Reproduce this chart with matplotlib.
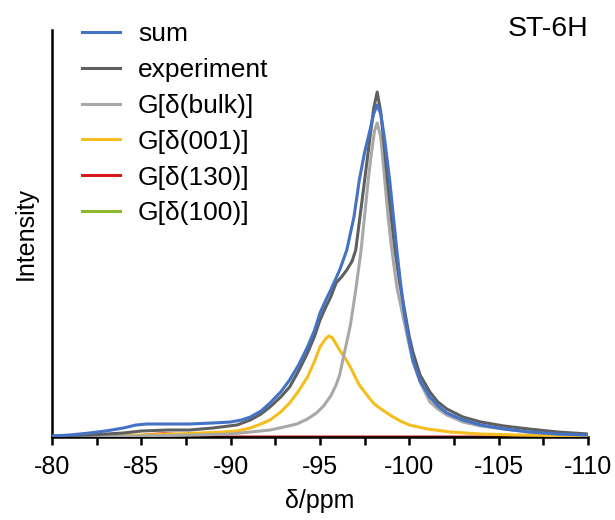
import numpy as np
import matplotlib.pyplot as plt

plt.rcParams['font.family'] = ['Liberation Sans', 'DejaVu Sans']
plt.rcParams['axes.unicode_minus'] = False

# (intensity in arbitrary units)
sum_ppm = [-80, -81, -82.1, -83, -84.0, -84.7, -85.3, -86.5, -87.7, -89.0,
           -90.0, -90.6, -91.1, -91.7, -92.2, -92.8, -93.3, -93.8, -94.3, -94.7,
           -95.0, -95.3, -95.6, -96.1, -96.5, -96.9, -97.2, -97.5, -97.8, -98.0,
           -98.2, -98.4, -98.6, -98.9, -99.1, -99.3, -99.5, -99.75, -100.0, -100.2,
           -100.6, -101.15, -101.6, -102.1, -103.0, -104.0, -105.3, -106.7, -108.3, -110]
sum_int = [1, 2, 4, 6, 9, 12, 13, 13, 13, 14,
           15, 17, 20, 26, 34, 45, 57, 72, 90, 107,
           124, 136, 147, 167, 187, 220, 257, 285, 307, 323,
           332, 323, 300, 257, 222, 187, 155, 120, 95, 77,
           56, 40, 31, 24, 17, 12, 8, 5, 3, 2]

exp_ppm = [-80, -82.1, -84.0, -85.0, -86.5, -87.7, -89.0, -90.35, -91.1, -91.7,
           -92.2, -92.8, -93.3, -93.8, -94.3, -94.7, -95.0, -95.3, -95.6, -95.9,
           -96.2, -96.5, -96.8, -97.0, -97.2, -97.5, -97.8, -98.0, -98.2, -98.4,
           -98.6, -98.8, -99.0, -99.2, -99.45, -99.75, -100.0, -100.2, -100.6, -101.15,
           -101.6, -102.1, -103.0, -104.0, -105.3, -106.7, -108.3, -110]
exp_int = [1, 2, 4, 6, 7, 7, 9, 12, 17, 23,
           30, 40, 50, 66, 84, 101, 117, 129, 140, 154,
           160, 167, 176, 187, 215, 257, 300, 328, 345, 325,
           290, 252, 218, 187, 155, 125, 100, 85, 62, 45,
           35, 28, 20, 15, 11, 8, 5, 3]

bulk_ppm = [-80, -85, -88, -90, -91.1, -92.2, -93.0, -93.7, -94.3, -94.8,
            -95.2, -95.6, -95.9, -96.1, -96.3, -96.5, -96.7, -96.85, -97.0, -97.15,
            -97.3, -97.5, -97.7, -97.85, -98.05, -98.2, -98.4, -98.6, -98.8, -99.0,
            -99.3, -99.75, -100.2, -100.6, -101.15, -101.6, -102.1, -103.0, -104.0, -105.3,
            -106.7, -108.3, -110]
bulk_int = [0, 1, 2, 3, 5, 7, 10, 13, 18, 24,
            31, 41, 52, 62, 79, 95, 112, 129, 147, 167,
            187, 222, 257, 280, 306, 314, 300, 262, 222, 190,
            150, 112, 75, 55, 35, 28, 22, 15, 11, 8,
            5, 3, 2]

g001_ppm = [-80, -83, -85, -87, -88.3, -89.5, -90.35, -91.1, -91.7, -92.2,
            -92.8, -93.3, -93.8, -94.3, -94.7, -95.0, -95.3, -95.5, -95.7, -96.1,
            -96.4, -96.7, -97.0, -97.2, -97.5, -97.8, -98.1, -98.5, -99.0, -99.5,
            -100.0, -100.5, -101.0, -102.3, -104.0, -106.0, -110]
g001_int = [0, 1, 2, 3, 4, 5, 6, 9, 13, 17,
            25, 34, 46, 60, 76, 90, 98, 101, 99, 87,
            79, 70, 59, 52, 45, 38, 32, 27, 21, 16,
            12, 10, 8, 5, 3, 2, 1]

g130_ppm = [-80, -83.5, -84.5, -85.2, -85.8, -86.3, -86.8, -87.4, -88.2, -90, -110]
g130_int = [0, 0, 0.6, 1.8, 2.8, 3.2, 2.8, 1.8, 0.6, 0, 0]

g100_ppm = [-80, -95, -110]
g100_int = [0, 0, 0]

xticks = [-80, -85, -90, -95, -100, -105, -110]

fig = plt.figure(figsize=(6.15, 5.2), dpi=100)
ax = fig.add_axes([52/615, 1 - 437/520, 536/615, 407/520])

lw = 2.2
l_sum, = ax.plot(sum_ppm, sum_int, color='#4472C4', lw=lw, zorder=6)
l_exp, = ax.plot(exp_ppm, exp_int, color='#5F5F5F', lw=lw, zorder=5)
l_bulk, = ax.plot(bulk_ppm, bulk_int, color='#A8A8A8', lw=lw, zorder=4)
l_001, = ax.plot(g001_ppm, g001_int, color='#F5BE1E', lw=lw, zorder=3)
l_130, = ax.plot(g130_ppm, g130_int, color='#D7191C', lw=lw, zorder=2)
l_100, = ax.plot(g100_ppm, g100_int, color='#8DB92A', lw=lw, zorder=1)

ax.set_xlim(-80, -110)
ax.set_ylim(0, 407)
ax.set_xticks(xticks)
ax.set_xticks(np.arange(-82.5, -110, -5), minor=True)
ax.set_yticks([])
ax.tick_params(axis='x', which='both', direction='out', length=6, width=1.8,
               labelsize=18, pad=7)
for s in ['top', 'right']:
    ax.spines[s].set_visible(False)
for s in ['bottom', 'left']:
    ax.spines[s].set_linewidth(1.8)

ax.set_xlabel('δ/ppm', fontsize=18, labelpad=7)
ax.set_ylabel('Intensity', fontsize=18, labelpad=10)

fig.text(588/615, 1 - 29/520, 'ST-6H', ha='right', va='center', fontsize=20.5)

fig.legend([l_sum, l_exp, l_bulk, l_001, l_130, l_100],
           ['sum', 'experiment', 'G[δ(bulk)]', 'G[δ(001)]', 'G[δ(130)]', 'G[δ(100)]'],
           loc='upper left', bbox_to_anchor=(82/615, 1 - 22/520),
           bbox_transform=fig.transFigure, frameon=False, fontsize=19,
           borderpad=0, borderaxespad=0, handlelength=1.44, handletextpad=0.68,
           labelspacing=0.45)

fig.savefig('out.png', dpi=100)
